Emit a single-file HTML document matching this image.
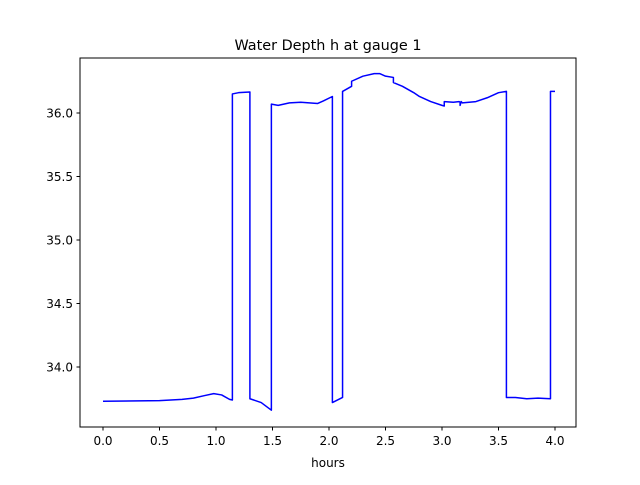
<!DOCTYPE html>
<html><head><meta charset="utf-8"><style>
body{margin:0;background:#fff;font-family:"Liberation Sans","DejaVu Sans",sans-serif;}
text{font-family:"DejaVu Sans","Liberation Sans",sans-serif;}
</style></head><body>
<svg id="chart" width="640" height="480" xmlns="http://www.w3.org/2000/svg">
<rect width="640" height="480" fill="#fff"/>
<text x="328" y="50" font-size="14.4" text-anchor="middle">Water Depth h at gauge 1</text>
<g id="plot"></g>
<rect x="80" y="58" width="496" height="369" fill="none" stroke="#000" stroke-width="1"/>
<text x="328" y="467" font-size="12" text-anchor="middle">hours</text>
</svg>
<script>
const xs=[0.0,0.5,0.7,0.8,0.9,0.98,1.05,1.12,1.145,1.145,1.2,1.3,1.3,1.4,1.49,1.49,1.55,1.65,1.75,1.9,1.95,2.03,2.03,2.12,2.12,2.2,2.2,2.3,2.4,2.45,2.5,2.57,2.57,2.65,2.75,2.8,2.9,3.0,3.02,3.02,3.1,3.15,3.16,3.16,3.17,3.18,3.18,3.3,3.4,3.5,3.57,3.57,3.65,3.75,3.85,3.96,3.96,4.0];
const ys=[33.73,33.735,33.745,33.755,33.775,33.79,33.78,33.745,33.74,36.15,36.16,36.165,33.75,33.72,33.66,36.07,36.06,36.08,36.085,36.075,36.095,36.13,33.72,33.76,36.17,36.21,36.25,36.29,36.31,36.31,36.29,36.28,36.24,36.21,36.16,36.13,36.09,36.06,36.055,36.09,36.085,36.09,36.085,36.06,36.09,36.08,36.08,36.09,36.12,36.16,36.17,33.76,33.76,33.75,33.755,33.75,36.17,36.17];
const xTicks=[0.0,0.5,1.0,1.5,2.0,2.5,3.0,3.5,4.0];
const yTicks=[34.0,34.5,35.0,35.5,36.0];
const X=v=>103+v*113, Y=v=>113+(36-v)*127;
const NS="http://www.w3.org/2000/svg", g=document.getElementById('plot');
function mk(t,a){const e=document.createElementNS(NS,t);for(const k in a)e.setAttribute(k,a[k]);g.appendChild(e);return e;}
xTicks.forEach(t=>{const l=mk('line',{x1:X(t),x2:X(t),y1:427,y2:430.5,stroke:'#000'});


const tx=mk('text',{x:X(t),y:445,'font-size':12,'text-anchor':'middle'});tx.textContent=t.toFixed(1);

});
yTicks.forEach(t=>{const l=mk('line',{x1:76.5,x2:80,y1:Y(t),y2:Y(t),stroke:'#000'});


const tx=mk('text',{x:73,y:Y(t)+4.5,'font-size':12,'text-anchor':'end'});tx.textContent=t.toFixed(1);

});
const p=mk('polyline',{points:xs.map((x,i)=>X(x)+','+Y(ys[i])).join(' '),fill:'none',stroke:'#0000ff','stroke-width':1.5,'stroke-linejoin':'round'});


</script>
</body></html>
